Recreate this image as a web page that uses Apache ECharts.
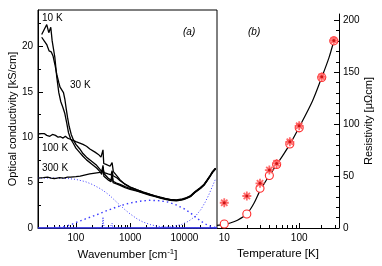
<!DOCTYPE html>
<html><head><meta charset="utf-8">
<script src="https://cdn.jsdelivr.net/npm/echarts@6/dist/echarts.min.js"></script>
<style>html,body{margin:0;padding:0;background:#fff}#c{width:382px;height:266px}</style>
</head><body><div id="c"></div>
<script>
// ---------- Panel (a): optical conductivity [kS/cm] vs wavenumber [cm-1] ----------
const sigma10K = [[23.4,21.3],[29,22.4],[31.6,21.5],[34.4,22.1],[36.5,20.6],[40.9,18.8],[44.4,16.6],[48.4,14.9],[52.7,13.9],[57.4,13.3],[62.5,12.6],[68.1,11.5],[73,10.5],[80,9.8],[90,9.3],[100,8.8],[118,8.3],[135,7.9],[157,7.5],[200,7.0],[241,6.6],[278,6.2],[300,5.9],[316,6.7],[328,5.7],[391,5.3],[445,5.1],[465,5.8],[485,5.0],[560,4.85],[654,4.7],[808,4.45],[1000,4.25],[1349,4.05],[1738,3.85],[2343,3.6],[2900,3.45],[3594,3.3],[4450,3.15],[5510,3.05],[7130,3.0],[9240,3.1],[11000,3.25],[12940,3.45],[16020,3.95],[19830,4.35],[23000,4.7],[26300,5.2],[30000,5.7],[33000,6.1],[37600,6.5]];
const sigma30K = [[23.4,21.0],[26,20.6],[29,20.2],[32,19.5],[35,19.4],[38,18.9],[41,18.0],[44.4,16.9],[48.4,16.0],[51,15.5],[55,15.3],[59,14.9],[62.5,14.2],[66,13.2],[70,12.2],[75,11.2],[82,10.3],[90,9.7],[100,9.2],[118,8.7],[135,8.2],[157,7.8],[200,7.3],[241,6.9],[278,6.45],[300,6.2],[316,6.9],[328,6.0],[391,5.5],[445,5.25],[465,6.1],[485,5.15],[560,4.95],[654,4.8],[808,4.55],[1000,4.35],[1349,4.1],[1738,3.9],[2343,3.65],[2900,3.5],[3594,3.35],[4450,3.2],[5510,3.1],[7130,3.05],[9240,3.15],[11000,3.3],[12940,3.5],[16020,4.0],[19830,4.4],[23000,4.75],[26300,5.25],[30000,5.75],[33000,6.15],[37600,6.55]];
const sigma100K = [[20,10.35],[23,10.4],[26,10.4],[29,10.2],[33,10.1],[37,10.3],[42,10.2],[47,10.0],[52,10.05],[58,9.9],[64,10.1],[70,9.9],[77,9.8],[88,9.65],[100,9.5],[118,9.35],[135,9.2],[157,9.0],[181,8.7],[225,8.35],[260,8.1],[290,7.8],[305,7.6],[316,8.6],[326,7.1],[360,7.0],[426,6.8],[450,6.6],[465,7.2],[490,6.2],[560,5.8],[654,5.3],[808,4.8],[1000,4.5],[1349,4.2],[1738,3.95],[2343,3.7],[2900,3.55],[3594,3.4],[4450,3.25],[5510,3.15],[7130,3.1],[9240,3.2],[11000,3.35],[12940,3.55],[16020,4.05],[19830,4.45],[23000,4.8],[26300,5.3],[30000,5.8],[33000,6.2],[37600,6.6]];
const sigma300K = [[20,5.5],[25,5.55],[30,5.6],[35,5.5],[40,5.45],[45,5.5],[50,5.55],[60,5.5],[70,5.6],[80,5.6],[100,5.65],[120,5.7],[150,5.85],[180,5.95],[225,6.05],[260,6.1],[300,6.15],[316,6.5],[330,6.1],[391,5.95],[445,5.85],[465,6.3],[485,5.75],[575,5.5],[654,5.2],[750,4.95],[1000,4.5],[1349,4.2],[1738,3.95],[2343,3.7],[2900,3.5],[3594,3.35],[4450,3.2],[5510,3.1],[7130,3.05],[9240,3.15],[11000,3.3],[12940,3.5],[16020,4.0],[19830,4.4],[23000,4.75],[26300,5.25],[30000,5.75],[33000,6.15],[37600,6.55]];
// fit components (blue)
const drudeComp = [[20,5.5],[40,5.5],[70,5.45],[100,5.35],[150,5.1],[200,4.8],[278,4.35],[350,3.95],[426,3.55],[520,3.05],[654,2.5],[808,2.0],[1000,1.55],[1350,1.0],[1738,0.65],[2343,0.38],[3000,0.22],[4450,0.1],[6820,0.04],[10000,0.02],[40000,0.0]];
const midIRComp = [[40,0.05],[60,0.15],[80,0.35],[100,0.6],[150,1.0],[240,1.45],[350,1.85],[500,2.2],[700,2.5],[1000,2.75],[1500,2.95],[2300,3.05],[3500,3.0],[5000,2.85],[7000,2.55],[10000,2.1],[13000,1.65],[17000,1.1],[22000,0.6],[28000,0.25],[37600,0.05]];
const highComp = [[2500,0],[4000,0.05],[6000,0.15],[9000,0.4],[12000,0.75],[16000,1.3],[20000,2.0],[24000,2.8],[28000,3.6],[33000,4.6],[37600,5.4]];
const phononComp = [[250,0],[295,0.05],[308,0.35],[316,1.2],[324,0.35],[340,0.05],[420,0],[452,0.08],[465,0.5],[478,0.08],[520,0]];
const baselineComp = [[20,0],[100,0],[1000,0],[10000,0],[40000,0]];

const waveMajorTicks = [100,1000,10000];
const waveMinorTicks = [30,40,50,60,70,80,90,200,300,400,500,600,700,800,900,2000,3000,4000,5000,6000,7000,8000,9000,20000,30000];
const sigmaMajorTicks = [0,5,10,15,20];
const sigmaMinorTicks = [2.5,7.5,12.5,17.5,22.5];

// ---------- Panel (b): resistivity [µΩcm] vs temperature [K] ----------
const tempCircles = [10,20,30,40,50,75,100,200,290];
const rhoCircles = [3.8,13.5,38.2,50.5,61.2,80.8,96.4,144.9,180.1];
const tempStars = [10,20,30,40,50,75,100,200,290];
const rhoStars = [24.3,30.8,43,55.8,62.2,83,98.4,145.5,180.5];
const fitT = [8,10,12,15,20,25,30,35,40,50,60,75,100,150,200,250,290];
const fitRho = [2.5,3.5,4.8,7.5,13.5,24,36,44,50.5,61,69.5,80.5,97,122,145,164,180];

const tempMajorTicks = [10,100];
const tempMinorTicks = [9,20,30,40,50,60,70,80,90,200,300];
const rhoMajorTicks = [0,50,100,150,200];
const rhoMinorTicks = [10,20,30,40,60,70,80,90,110,120,130,140,160,170,180,190];

const FONT = '"Liberation Sans", Arial, sans-serif';
const K = '#000';
const BLUE = '#3a3aff';
const RED = '#ff2a2a';

function zip(a,b){return a.map((v,i)=>[v,b[i]]);}
function fmt(v){return String(Math.round(v));}

function majorAxis(o){
  return Object.assign({
    axisLine:{show:true,lineStyle:{color:K,width:1}},
    axisTick:{show:true,inside:true,length:5,lineStyle:{color:K,width:1}},
    axisLabel:{show:true,color:K,fontSize:10,fontFamily:FONT,formatter:fmt},
    splitLine:{show:false},minorTick:{show:false},minorSplitLine:{show:false}
  },o);
}
function minorAxis(o, ticks){
  return Object.assign({
    axisLine:{show:false},
    axisTick:{show:true,inside:true,length:3,customValues:ticks,lineStyle:{color:K,width:1}},
    axisLabel:{show:false},
    splitLine:{show:false},minorTick:{show:false}
  },o);
}

const xAxis = [
  majorAxis({gridIndex:0,type:'log',logBase:10,min:20,max:40000,position:'bottom',
    axisTick:{show:true,inside:true,length:5,customValues:waveMajorTicks,lineStyle:{color:K}},
    axisLabel:{show:true,customValues:waveMajorTicks,color:K,fontSize:10,fontFamily:FONT,margin:5,formatter:fmt},
    name:'Wavenumber [cm{sup|-1}]',nameLocation:'middle',nameGap:15,
    nameTextStyle:{color:K,fontSize:11.5,fontFamily:FONT,rich:{sup:{fontSize:8,fontFamily:FONT,color:K,verticalAlign:'top',padding:[0,0,6,0]}}}}),
  minorAxis({gridIndex:0,type:'log',logBase:10,min:20,max:40000,position:'bottom'}, waveMinorTicks),
  majorAxis({gridIndex:1,type:'log',logBase:10,min:8,max:340,position:'bottom',
    axisTick:{show:true,inside:true,length:5,customValues:tempMajorTicks,lineStyle:{color:K}},
    axisLabel:{show:true,customValues:tempMajorTicks,color:K,fontSize:10,fontFamily:FONT,margin:5,formatter:fmt},
    name:'Temperature [K]',nameLocation:'middle',nameGap:15,
    nameTextStyle:{color:K,fontSize:11.5,fontFamily:FONT}}),
  minorAxis({gridIndex:1,type:'log',logBase:10,min:8,max:340,position:'bottom'}, tempMinorTicks)
];
const yAxis = [
  majorAxis({gridIndex:0,type:'value',min:0,max:24,position:'left',
    axisTick:{show:true,inside:true,length:5,customValues:sigmaMajorTicks,lineStyle:{color:K}},
    axisLabel:{show:true,customValues:sigmaMajorTicks,color:K,fontSize:10,fontFamily:FONT,margin:5,formatter:fmt},
    name:'Optical conductivity [kS/cm]',nameLocation:'middle',nameGap:20,
    nameTextStyle:{color:K,fontSize:11,fontFamily:FONT}}),
  minorAxis({gridIndex:0,type:'value',min:0,max:24,position:'left'}, sigmaMinorTicks),
  majorAxis({gridIndex:1,type:'value',min:0,max:206,position:'right',
    axisTick:{show:true,inside:true,length:5,customValues:rhoMajorTicks,lineStyle:{color:K}},
    axisLabel:{show:true,customValues:rhoMajorTicks,color:K,fontSize:10,fontFamily:FONT,margin:4,formatter:fmt},
    name:'Resistivity [μΩcm]',nameLocation:'middle',nameGap:23,
    nameTextStyle:{color:K,fontSize:11,fontFamily:FONT}}),
  minorAxis({gridIndex:1,type:'value',min:0,max:206,position:'right'}, rhoMinorTicks)
];

function blackLine(data){
  return {type:'line',xAxisIndex:0,yAxisIndex:0,data:data,showSymbol:false,symbol:'none',
    lineStyle:{color:K,width:1.3},z:5,silent:true};
}
function blueLine(data,type,width,z){
  return {type:'line',xAxisIndex:0,yAxisIndex:0,data:data,showSymbol:false,symbol:'none',
    lineStyle:{color:BLUE,width:width,type:type},z:z||3,silent:true};
}

// 8-armed asterisk
const STAR = 'path://M-5,-1L5,-1L5,1L-5,1Z M-1,-5L1,-5L1,5L-1,5Z M-2.79,-4.21L4.21,2.79L2.79,4.21L-4.21,-2.79Z M4.21,-2.79L-2.79,4.21L-4.21,2.79L2.79,-4.21Z';

const series = [
  blueLine(baselineComp,'solid',1.6,2),
  blueLine(drudeComp,[1,2],1,3),
  blueLine(midIRComp,[1.5,3],1.4,3),
  blueLine(highComp,[1,2],1,3),
  blueLine(phononComp,[1,1.5],1,3),
  blackLine(sigma300K),
  blackLine(sigma100K),
  blackLine(sigma30K),
  blackLine(sigma10K),
  {type:'line',xAxisIndex:2,yAxisIndex:2,data:zip(fitT,fitRho),smooth:0.3,showSymbol:false,symbol:'none',
    lineStyle:{color:K,width:1.2},z:4,silent:true},
  {type:'scatter',xAxisIndex:2,yAxisIndex:2,data:zip(tempCircles,rhoCircles),symbol:'circle',symbolSize:8,
    itemStyle:{color:'#fff',borderColor:RED,borderWidth:1.1,opacity:1},z:5,silent:true},
  {type:'scatter',xAxisIndex:2,yAxisIndex:2,data:zip(tempStars,rhoStars),symbol:STAR,symbolSize:9,
    itemStyle:{color:'#ff5a5a',opacity:0.9},z:6,silent:true},
  {type:'scatter',xAxisIndex:2,yAxisIndex:2,data:zip(tempStars,rhoStars),symbol:'circle',symbolSize:3,
    itemStyle:{color:'#c00000'},z:7,silent:true}
];

function label(text,x,y,italic){
  return {type:'text',left:x,top:y,silent:true,
    style:{text:text,fill:K,font:(italic?'italic ':'')+'10px '+FONT}};
}

const option = {
  animation:false,
  backgroundColor:'#fff',
  grid:[
    {left:38,top:10,right:165,bottom:38,show:true,borderColor:K,borderWidth:1,backgroundColor:'transparent',outerBoundsMode:'none',containLabel:false},
    {left:217,top:14,right:43,bottom:38,show:false,outerBoundsMode:'none',containLabel:false}
  ],
  xAxis:xAxis,
  yAxis:yAxis,
  series:series,
  graphic:[
    label('10 K',42,13),
    label('30 K',70,80),
    label('100 K',42,143),
    label('300 K',42,163),
    label('(a)',183,27,true),
    label('(b)',248,27,true)
  ]
};
const chart = echarts.init(document.getElementById('c'),null,{renderer:'canvas'});
chart.setOption(option);
</script>
</body></html>
